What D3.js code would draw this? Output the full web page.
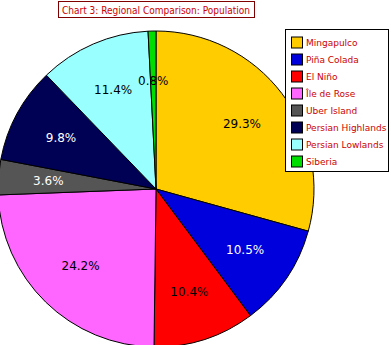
<!DOCTYPE html>
<html>
<head>
<meta charset="utf-8">
<script src="https://cdn.jsdelivr.net/npm/d3@7"></script>
<style>
  html, body { margin: 0; padding: 0; background: #fff; }
  svg { display: block; }
</style>
</head>
<body>
<svg id="chart" width="391" height="345"></svg>
<script>
// Regional population shares (percent)
const regions = ["Mingapulco", "Piña Colada", "El Niño", "Île de Rose", "Uber Island", "Persian Highlands", "Persian Lowlands", "Siberia"];
const shares = [29.3, 10.5, 10.4, 24.2, 3.6, 9.8, 11.4, 0.8];
const sliceColors = ["#ffcc00", "#0000dd", "#ff0000", "#ff66ff", "#555555", "#000055", "#99ffff", "#00dd00"];
const labelColors = ["#000", "#fff", "#000", "#000", "#fff", "#fff", "#000", "#000"];
const title = "Chart 3: Regional Comparison: Population";

const svg = d3.select("#chart");
const font = "'DejaVu Sans', Verdana, sans-serif";

const data = regions.map((name, i) => ({ name, value: shares[i], i }));

// Pie
const cx = 156, cy = 189, radius = 158;
const pie = d3.pie().sort(null).value(d => d.value);
const arc = d3.arc().innerRadius(0).outerRadius(radius);
const labelArc = d3.arc().innerRadius(108).outerRadius(108);
const arcs = pie(data);

const g = svg.append("g").attr("transform", `translate(${cx},${cy})`);
g.selectAll("path.slice")
  .data(arcs)
  .join("path")
  .attr("class", "slice")
  .attr("d", arc)
  .attr("fill", d => sliceColors[d.data.i])
  .attr("stroke", "#000")
  .attr("stroke-width", 1);

g.selectAll("text.pct")
  .data(arcs)
  .join("text")
  .attr("class", "pct")
  .attr("transform", d => `translate(${labelArc.centroid(d)})`)
  .attr("text-anchor", "middle")
  .attr("dominant-baseline", "central")
  .attr("font-family", font)
  .attr("font-size", 12)
  .attr("fill", d => labelColors[d.data.i])
  .text(d => d3.format(".1f")(d.data.value) + "%");

// Title box
const titleG = svg.append("g");
titleG.append("rect")
  .attr("x", 58.5).attr("y", 1.5).attr("width", 196).attr("height", 16)
  .attr("fill", "#fff").attr("stroke", "#800000").attr("stroke-width", 1);
titleG.append("text")
  .attr("x", 62).attr("y", 10)
  .attr("dominant-baseline", "central")
  .attr("font-family", font)
  .attr("font-size", 10.5)
  .attr("textLength", 188)
  .attr("lengthAdjust", "spacingAndGlyphs")
  .attr("fill", "#cc0000")
  .text(title);

// Legend
const legend = svg.append("g");
legend.append("rect")
  .attr("x", 285.5).attr("y", 29.5).attr("width", 103).attr("height", 142)
  .attr("fill", "#fff").attr("stroke", "#000").attr("stroke-width", 1);

const rowY = d3.scaleLinear().domain([0, 1]).range([42.5, 59.5]);
const items = legend.selectAll("g.item")
  .data(data)
  .join("g")
  .attr("class", "item")
  .attr("transform", d => `translate(0,${rowY(d.i)})`);
items.append("rect")
  .attr("x", 291.5).attr("y", -5.5).attr("width", 11).attr("height", 11)
  .attr("fill", d => sliceColors[d.i])
  .attr("stroke", "#000").attr("stroke-width", 1);
items.append("text")
  .attr("x", 306).attr("y", 0)
  .attr("dominant-baseline", "central")
  .attr("font-family", font)
  .attr("font-size", 9)
  .attr("fill", "#cc0000")
  .text(d => d.name);
</script>
</body>
</html>
